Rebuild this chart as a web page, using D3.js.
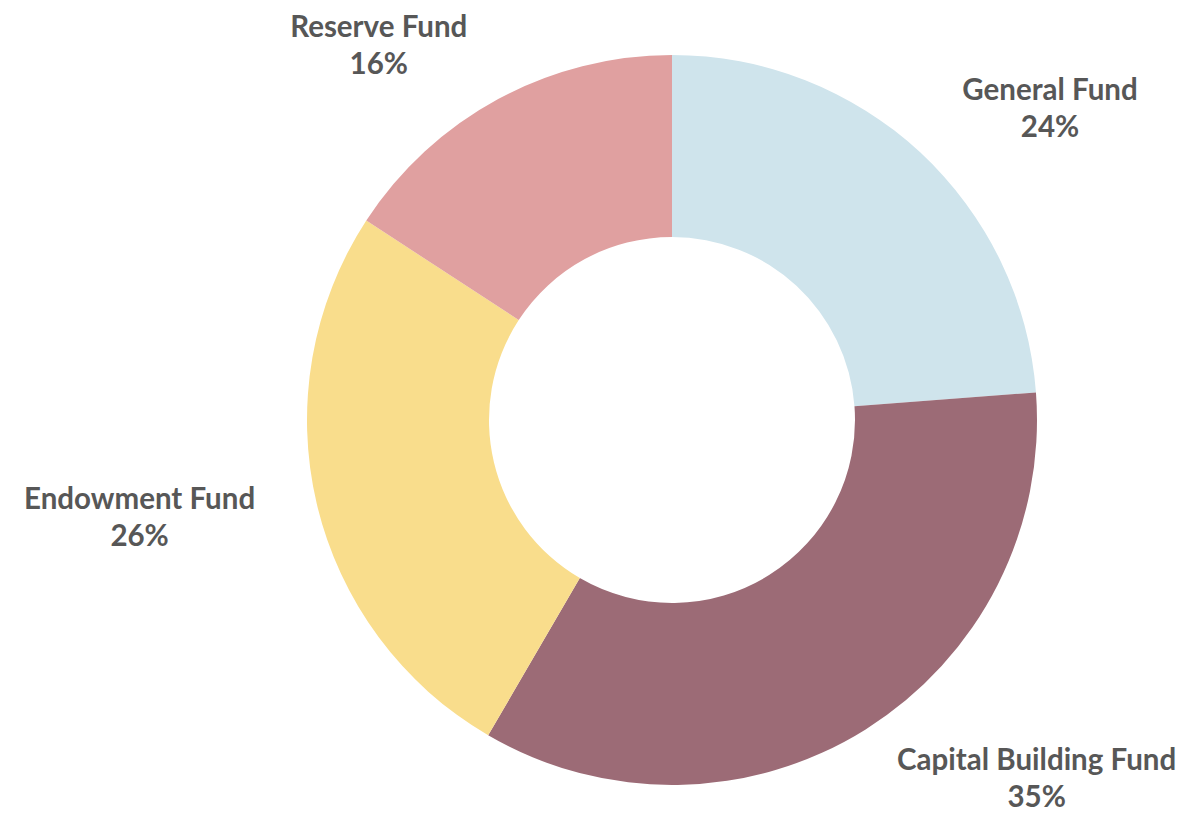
<!DOCTYPE html>
<html>
<head>
<meta charset="utf-8">
<script src="https://cdn.jsdelivr.net/npm/d3@7"></script>
<style>
  html, body { margin: 0; padding: 0; background: #ffffff; }
  svg { display: block; }
  text { font-family: Lato, "Noto Sans", sans-serif; font-weight: 700; fill: #575757; }
</style>
</head>
<body>
<svg id="chart" width="1190" height="814"></svg>
<script>
// ---- data ----
const categories = ["General Fund", "Capital Building Fund", "Endowment Fund", "Reserve Fund"];
const values = [23.8, 34.6, 25.8, 15.8];
const percentLabels = ["24%", "35%", "26%", "16%"];
const colors = ["#cfe4ec", "#9c6b76", "#f9dd8c", "#e0a0a0"];

// ---- layout ----
const W = 1190, H = 814;
const cx = 672, cy = 420;
const outerR = 365, innerR = 183;
// label placement relative to each slice's mid-angle (degrees offset, radius)
const labelAngleNudge = [7.5, -13.6, 3.1, -9.5];
const labelRadius = [491, 510, 541, 477];

const svg = d3.select("#chart");
const g = svg.append("g").attr("transform", `translate(${cx},${cy})`);

const data = categories.map((c, i) => ({ name: c, value: values[i], pct: percentLabels[i], color: colors[i], i }));

const pie = d3.pie().value(d => d.value).sort(null);
const arc = d3.arc().innerRadius(innerR).outerRadius(outerR);
const arcs = pie(data);

g.selectAll("path.slice")
  .data(arcs)
  .join("path")
  .attr("class", "slice")
  .attr("d", arc)
  .attr("fill", d => d.data.color);

const labels = g.selectAll("g.label")
  .data(arcs)
  .join("g")
  .attr("class", "label")
  .attr("transform", d => {
    const mid = (d.startAngle + d.endAngle) / 2 + labelAngleNudge[d.data.i] * Math.PI / 180;
    const r = labelRadius[d.data.i];
    return `translate(${r * Math.sin(mid)},${-r * Math.cos(mid)})`;
  });

labels.append("text")
  .attr("text-anchor", "middle")
  .attr("y", -7)
  .style("font-size", "29.5px")
  .text(d => d.data.name);

labels.append("text")
  .attr("text-anchor", "middle")
  .attr("y", 30)
  .style("font-size", "29.5px")
  .text(d => d.data.pct);
</script>
</body>
</html>
